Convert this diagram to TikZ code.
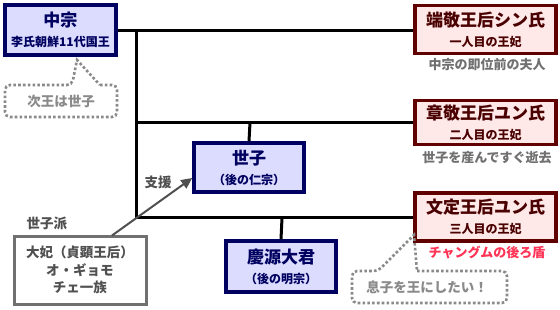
\documentclass[tikz,border=0pt]{standalone}
\usepackage{fontspec}
\setmainfont{Noto Sans CJK JP}
\usetikzlibrary{arrows.meta}
\definecolor{lav}{HTML}{DCDCFF}
\definecolor{navy}{HTML}{000060}
\definecolor{pinkf}{HTML}{FFE8E8}
\definecolor{maroon}{HTML}{600000}
\definecolor{marotext}{HTML}{4A0000}
\definecolor{capgray}{HTML}{707070}
\definecolor{dotgray}{HTML}{8A8A8A}
\definecolor{redcap}{HTML}{FF3355}
\definecolor{grpgray}{HTML}{707070}
\definecolor{grptext}{HTML}{505050}
\tikzset{
  boxtext/.style={align=center, inner sep=0pt, font=\bfseries\fontsize{17}{20}\selectfont},
  king/.style={boxtext, draw=navy, fill=lav, line width=3.5pt, text=navy},
  queen/.style={boxtext, draw=maroon, fill=pinkf, line width=3.5pt, text=marotext},
  captxt/.style={text=capgray, font=\bfseries\fontsize{13}{14}\selectfont, inner sep=0pt},
  conn/.style={line width=3pt, black},
  callout/.style={draw=dotgray, line width=2.6pt, dash pattern=on 2.6pt off 2.2pt},
  calltext/.style={text=dotgray, font=\bfseries\fontsize{13.5}{15}\selectfont, inner sep=0pt},
}
\newcommand{\sbt}[1]{{\fontsize{12}{20}\selectfont #1}}
\begin{document}
\begin{tikzpicture}[x=1pt,y=-1pt]
\useasboundingbox (0,0) rectangle (560,310);
\fill[white] (0,0) rectangle (560,310);

\coordinate (t1) at (136.5,31);
\coordinate (t2) at (136.5,122.5);
\coordinate (t3) at (136.5,218);
\coordinate (b1) at (250,122.5);
\coordinate (b2) at (282,218);

% boxes
\node[king, minimum width=111pt, minimum height=50pt] (chu) at (60.5,30)
  {中宗\\\sbt{李氏朝鮮11代国王}};
\node[queen, minimum width=141pt, minimum height=48pt] (q1) at (485.5,29.5)
  {端敬王后シン氏\\\sbt{一人目の王妃}};
\node[queen, minimum width=141pt, minimum height=44pt] (q2) at (485.5,122.5)
  {章敬王后ユン氏\\\sbt{二人目の王妃}};
\node[queen, minimum width=141pt, minimum height=48pt] (q3) at (485.5,217)
  {文定王后ユン氏\\\sbt{三人目の王妃}};
\node[king, minimum width=110pt, minimum height=49pt] (seja) at (249,167.5)
  {世子\\\sbt{（後の仁宗）}};
\node[king, minimum width=110pt, minimum height=51pt] (gyeong) at (281,266.5)
  {慶源大君\\\sbt{（後の明宗）}};

\draw[conn] (chu.east |- t1) -- (q1.west |- t1);
\draw[conn] (t1) -- ([yshift=1.5pt]t3);
\draw[conn] (t2) -- (q2.west |- t2);
\draw[conn] ([xshift=-1.5pt]t3) -- (q3.west |- t3);
\draw[conn] (b1) -- (seja.north);
\draw[conn] (b2) -- (gyeong.north);

% captions
\node[captxt] (c1) at (487,65) {中宗の即位前の夫人};
\node[captxt] (c2) at (487,158) {世子を産んですぐ逝去};
\node[captxt, text=redcap] (c3) at (487,253) {チャングムの後ろ盾};

% callout 1
\draw[callout, rounded corners=5pt] (100,85) -- (117,85) -- (117,117) -- (5,117) -- (5,85) -- (72,85) [sharp corners] -- (77,60) -- cycle;
\node[calltext] (k1) at (61,101) {次王は世子};

% callout 2
\draw[callout, rounded corners=5pt] (417,271) -- (507,271) -- (507,303) -- (352,303) -- (352,271) -- (378,271) [sharp corners] -- (414,235) -- cycle;
\node[calltext] (k2) at (427,287) {息子を王にしたい！};

% seja faction group
\node[draw=grpgray, line width=3pt, fill=white, minimum width=132pt, minimum height=68pt, inner sep=0pt,
      text=grptext, align=center, font=\bfseries\fontsize{13.5}{17.5}\selectfont] (grp) at (80,270)
  {大妃（貞顕王后）\\オ・ギョモ\\チェ一族};
\node[text=grptext, font=\bfseries\fontsize{13.5}{15}\selectfont, inner sep=0pt] (grplbl) at (47,223) {世子派};
\draw[draw=grptext, line width=2pt, -{Triangle[length=11pt,width=10pt]}] (112,235.5) -- (seja.west |- 0,178);
\node[text=grptext, font=\bfseries\fontsize{13.5}{15}\selectfont, inner sep=0pt] (shien) at (158,182) {支援};
\end{tikzpicture}
\end{document}
